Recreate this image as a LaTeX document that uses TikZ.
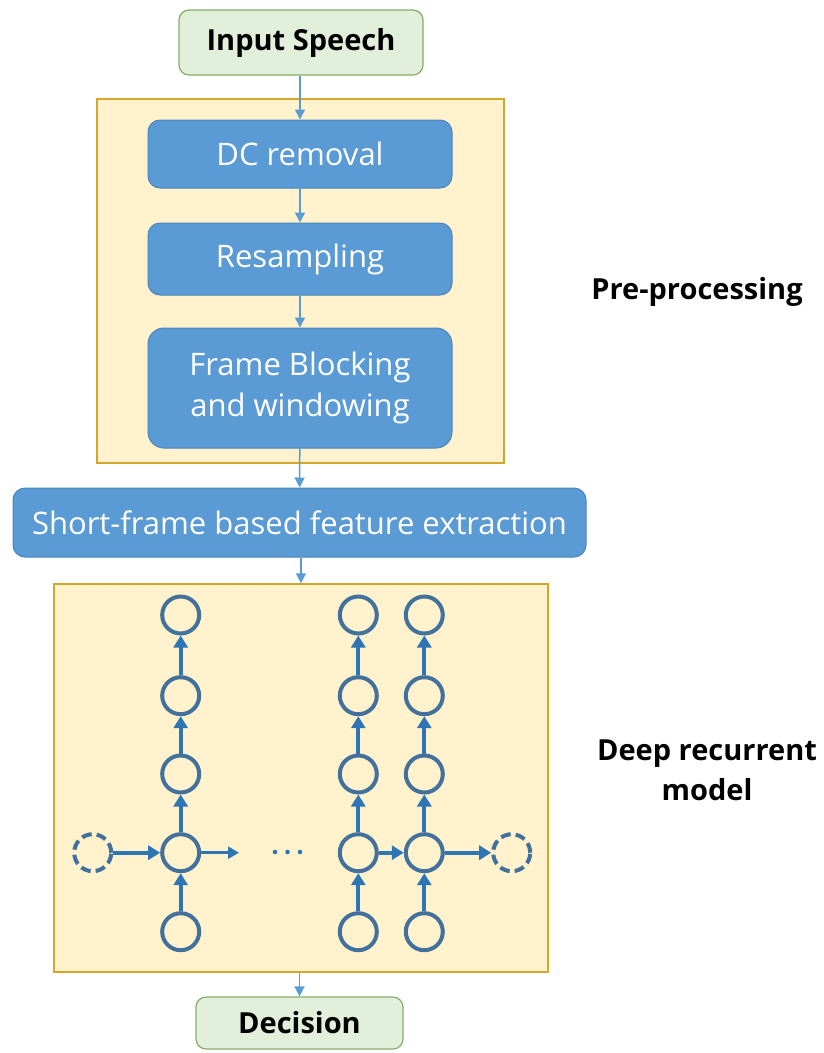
\documentclass[tikz,border=0pt]{standalone}
\usepackage{fontspec}
\setmainfont{Open Sans}
\usetikzlibrary{arrows.meta}
\definecolor{stepblue}{HTML}{5B9BD5}
\definecolor{stepedge}{HTML}{4A84BC}
\definecolor{termfill}{HTML}{E2EFDA}
\definecolor{termedge}{HTML}{86AC6A}
\definecolor{groupfill}{HTML}{FFF2CC}
\definecolor{groupedge}{HTML}{D4A62A}
\definecolor{cellring}{HTML}{41719C}
\definecolor{cellarrow}{HTML}{2E75B6}
\tikzset{
  termbox/.style={draw=termedge, line width=1.2pt, fill=termfill, rounded corners=10pt,
    font=\fontsize{29}{32}\selectfont\bfseries, text=black},
  groupbox/.style={draw=groupedge, line width=1.5pt, fill=groupfill},
  stepbox/.style={draw=stepedge, line width=1pt, fill=stepblue, rounded corners=12pt,
    font=\fontsize{31}{41}\selectfont, text=white, align=center},
  flow/.style={draw=stepblue, line width=1.5pt, -{Triangle[width=10pt,length=10pt]}},
  cell/.style={circle, draw=cellring, line width=4pt, minimum size=37pt, inner sep=0pt},
  ghost/.style={cell, dash pattern=on 10pt off 5pt},
  link/.style={draw=cellarrow, line width=4pt, -{Triangle[width=14pt,length=12pt]}},
  sidelabel/.style={font=\fontsize{29}{40}\selectfont\bfseries, align=center, text=black}
}
\begin{document}
\begin{tikzpicture}[x=1pt, y=-1pt]
\useasboundingbox (0,0) rectangle (824,1053);

% group backgrounds
\node[groupbox, minimum width=407pt, minimum height=364pt] (pre) at (300.5,281) {};
\node[groupbox, minimum width=494pt, minimum height=388pt] (deep) at (301,778) {};

% pipeline steps
\node[termbox, minimum width=244pt, minimum height=65pt] (input) at (301,42.5) {Input Speech};
\node[stepbox, minimum width=304pt, minimum height=68pt] (dc) at (300,154) {DC removal};
\node[stepbox, minimum width=304pt, minimum height=72pt] (res) at (300,259) {Resampling};
\node[stepbox, minimum width=304pt, minimum height=120pt, rounded corners=16pt] (frame) at (300,388) {Frame Blocking\\and windowing};
\node[stepbox, minimum width=573pt, minimum height=69pt] (feat) at (299.5,522.5) {Short-frame based feature extraction};
\node[termbox, minimum width=207pt, minimum height=52pt] (dec) at (299.5,1023) {Decision};

% side labels
\node[sidelabel] (prelab) at (697,292) {Pre-processing};
\node[sidelabel] (deeplab) at (707,770) {Deep recurrent\\model};

% flow arrows
\draw[flow] (input.south -| dc.north) -- (dc.north);
\draw[flow] (dc) -- (res);
\draw[flow] (res) -- (frame);
\draw[flow] (frame) -- (feat);
\draw[flow] (feat.south -| deep.north) -- (deep.north);
\draw[flow] (deep.south -| dec.north) -- (dec.north);

% recurrent cells: three unrolled columns of five cells
\foreach \col/\x in {a/180.7, b/358.3, c/424.3} {
  \foreach \row/\y in {1/615, 2/695.7, 3/774, 4/852.7, 5/931.7} {
    \node[cell] (\col\row) at (\x,\y) {};
  }
  \foreach \lo/\hi in {5/4, 4/3, 3/2, 2/1} {
    \draw[link] (\col\lo) -- (\col\hi);
  }
}
\node[ghost] (gl) at (92.7,852.7) {};
\node[ghost] (gr) at (511.7,852.7) {};
\coordinate (aout) at (239,852.7);

\draw[link] (gl) -- (a4);
\draw[link, line width=2.5pt, -{Triangle[width=12pt,length=11pt]}] (a4) -- (aout);
\draw[link] (b4) -- (c4);
\draw[link] (c4) -- (gr);

% ellipsis between columns
\foreach \dx in {275, 287.5, 300} {
  \fill[cellarrow] (\dx,852) circle (2.3pt);
}
\end{tikzpicture}
\end{document}
